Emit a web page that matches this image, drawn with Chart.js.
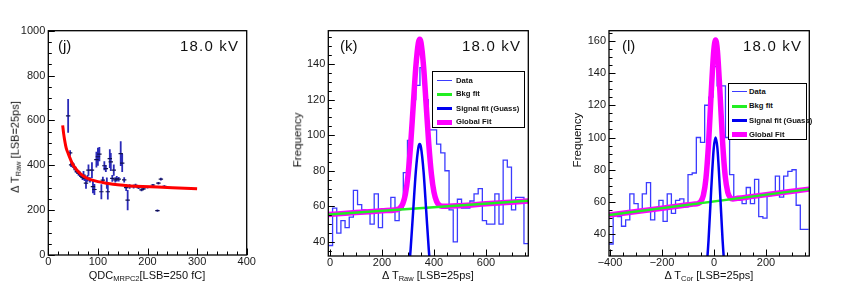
<!DOCTYPE html>
<html><head><meta charset="utf-8">
<script src="https://cdn.jsdelivr.net/npm/chart.js@4.4.1/dist/chart.umd.min.js"></script>
<style>
html,body{margin:0;padding:0;background:#fff;}
body{width:845px;height:289px;overflow:hidden;position:relative;font-family:"Liberation Sans",Arial,Helvetica,sans-serif;color:#111;}
canvas{position:absolute;top:0;}
.t{position:absolute;white-space:nowrap;line-height:1;}
.big{font-size:15px;}
.sp{letter-spacing:1.2px;}
.ax{font-size:11px;}
.fq{font-size:11.6px;}
.ax sub{font-size:7.5px;vertical-align:-2px;}
.rot{transform:translate(-50%,-50%) rotate(-90deg);}
.ctr{transform:translate(-50%,-50%);}
.leg{position:absolute;background:#fff;border:1.3px solid #000;box-sizing:border-box;}
.leg .ln{position:absolute;}
.leg .tx{position:absolute;font-size:7.7px;font-weight:bold;white-space:nowrap;line-height:1;transform:translateY(-50%);color:#111;}
</style></head><body>
<canvas id="cj" width="280" height="289" style="left:0px"></canvas>
<canvas id="ck" width="280" height="289" style="left:280px"></canvas>
<canvas id="cl" width="285" height="289" style="left:560px"></canvas>

<div class="t big" style="left:58px;top:37.5px">(j)</div>
<div class="t big sp" style="left:180px;top:37.5px">18.0 kV</div>
<div class="t big" style="left:340px;top:37.5px">(k)</div>
<div class="t big sp" style="left:462px;top:37.5px">18.0 kV</div>
<div class="t big" style="left:622px;top:37.5px">(l)</div>
<div class="t big sp" style="left:743px;top:37.5px">18.0 kV</div>

<div class="t ax rot" style="left:16px;top:147px">&Delta; T<sub>Raw</sub> [LSB=25ps]</div>
<div class="t ax ctr" style="left:147px;top:276px">QDC<sub>MRPC2</sub>[LSB=250 fC]</div>
<div class="t ax fq rot" style="left:297px;top:140px">Frequency</div>
<div class="t ax ctr" style="left:428px;top:276px">&Delta; T<sub>Raw</sub> [LSB=25ps]</div>
<div class="t ax fq rot" style="left:577px;top:140px">Frequency</div>
<div class="t ax ctr" style="left:709px;top:276px">&Delta; T<sub>Cor</sub> [LSB=25ps]</div>

<div class="leg" style="left:432px;top:71px;width:93px;height:57px">
  <div class="ln" style="left:4px;width:15px;top:8px;height:1.2px;background:#3b3bff"></div><div class="tx" style="left:23px;top:8.5px">Data</div>
  <div class="ln" style="left:4px;width:15px;top:21px;height:2.5px;background:#22ee22"></div><div class="tx" style="left:23px;top:22px">Bkg fit</div>
  <div class="ln" style="left:4px;width:15px;top:35px;height:2.5px;background:#0000f0"></div><div class="tx" style="left:23px;top:36.5px">Signal fit (Guass)</div>
  <div class="ln" style="left:4px;width:15px;top:47.5px;height:5px;background:#ff00ff"></div><div class="tx" style="left:23px;top:50px">Global Fit</div>
</div>
<div class="leg" style="left:728px;top:83px;width:79px;height:57px">
  <div class="ln" style="left:3px;width:15px;top:7px;height:1.2px;background:#3b3bff"></div><div class="tx" style="left:20px;top:7.5px">Data</div>
  <div class="ln" style="left:3px;width:15px;top:21px;height:2.5px;background:#22ee22"></div><div class="tx" style="left:20px;top:22px">Bkg fit</div>
  <div class="ln" style="left:3px;width:15px;top:35px;height:2.5px;background:#0000f0"></div><div class="tx" style="left:20px;top:36.5px">Signal fit (Guass)</div>
  <div class="ln" style="left:3px;width:15px;top:48px;height:5px;background:#ff00ff"></div><div class="tx" style="left:20px;top:50.5px">Global Fit</div>
</div>

<script>
// ---------- Panel (j): time-walk scatter ----------
const qdcMRPC2 = [40,44,46,49,52,55,58,61,64,67,69,71,73,76,79,81,84,88,90,93,97,100,103,107,110,113,116,118,120,124,126,129,132,135,138,142,146,149,153,157,160,164,172,176,182,188,192,200,211,220,222,227,234];
const dtRaw    = [620,455,402,405,392,380,372,365,360,352,346,356,342,320,342,378,335,378,305,292,425,438,450,282,334,398,385,320,282,430,415,342,378,335,340,338,452,410,335,300,245,305,305,310,300,290,295,302,312,198,320,338,306];
const dtRawErr = [75,12,10,10,10,12,10,12,12,10,12,18,12,25,15,25,12,35,30,25,35,40,32,33,15,20,15,25,35,42,40,15,25,12,12,10,55,40,12,15,45,10,8,8,6,6,5,5,5,5,6,6,5];
const fitQdc = [29,31,33.5,36,40,45,50,57,64,72,84,100,118,140,165,190,220,250,300];
const fitDt  = [578,540,505,478,453,425,401,380,364,350,337,327,320,313,308,305,303,300,295];
const ticksJx = [0,100,200,300,400];
const ticksJy = [0,200,400,600,800,1000];

// ---------- Panel (k): raw time difference histogram ----------
const histKLow = -6, histKBin = 16;
const countsK = [38,59,45,52,48,54,69,61,58,57,50,67,48,58,58,65,52,59,79,97,120,128,138,120,103,103,95,90,80,58,40,64,59,59,63,67,70,52,50,50,67,50,86,82,58,65,65,39];
const bkgKx = [-6,762], bkgKy = [55.4,63.1];
const globalKx = [-6,100,200,250,260,270,280,290,300,310,320,330,340,345,350,360,370,380,390,400,410,420,430,500,600,762];
const globalKy = [55.4,56.5,57.5,58.0,58.3,59.2,61.5,66.8,77.3,94.3,116.3,138.1,151.9,153.9,152.1,138.5,116.8,95.0,78.2,67.9,62.8,60.7,60.0,60.4,61.4,63.0];
const signalKx = [290,300,310,320,330,340,345,350,360,370,380,390,400];
const signalKy = [8.4,18.8,35.7,57.6,79.4,93.1,95,93.1,79.4,57.6,35.7,18.8,8.4];
const ticksKx = [0,200,400,600];
const ticksKy = [40,60,80,100,120,140];

// ---------- Panel (l): corrected time difference histogram ----------
const histLLow = -404, histLBin = 16;
const countsL = [34,52,51,45,49,65,59,54,65,72,49,56,61,48,65,53,61,62,57,77,78,100,97,120,125,144,132,132,100,77,61,61,59,69,59,74,51,50,64,65,76,63,76,79,80,58,43,43];
const bkgLx = [-404,366], bkgLy = [52.0,68.0];
const globalLx = [-404,-200,-100,-80,-61,-51,-41,-31,-21,-11,-1,6,13,23,33,43,53,63,73,90,150,366];
const globalLy = [52.0,56.2,58.3,58.7,59.1,60.3,64.1,74.6,96.2,127.0,153.6,160.5,153.9,127.7,97.3,76.1,66.0,62.6,61.9,62.3,63.5,68.0];
const signalLx = [-51,-41,-31,-21,-11,-1,6,13,23,33,43,53,63];
const signalLy = [1.1,4.7,15,36.4,67,93.4,100,93.4,67,36.4,15,4.7,1.1];
const ticksLx = [-400,-200,0,200];
const ticksLy = [40,60,80,100,120,140,160];

// ---------- helpers ----------
const pts = (xs, ys) => xs.map((x, i) => ({x, y: ys[i]}));
const histPts = (low, w, counts) => {
  const p = counts.map((c, i) => ({x: low + i * w, y: c}));
  p.push({x: low + counts.length * w, y: counts[counts.length - 1]});
  return p;
};
const errPts = (xs, ys, es) => xs.flatMap((x, i) => [{x, y: ys[i] - es[i]}, {x, y: ys[i] + es[i]}, {x, y: null}]);

const frameTicks = {
  id: 'frameTicks',
  afterDatasetsDraw(chart, args, o) {
    const {ctx, chartArea: a, scales: {x, y}} = chart;
    ctx.save();
    ctx.strokeStyle = '#000';
    ctx.lineWidth = 1;
    ctx.beginPath();
    const eps = 1e-6;
    for (let v = Math.ceil(x.min / o.minX) * o.minX; v <= x.max + eps; v += o.minX) {
      const px = Math.round(x.getPixelForValue(v)) + 0.5;
      const major = Math.abs(v / o.majX - Math.round(v / o.majX)) < eps;
      ctx.moveTo(px, a.bottom); ctx.lineTo(px, a.bottom - (major ? 6.5 : 3.5));
    }
    for (let v = Math.ceil(y.min / o.minY) * o.minY; v <= y.max + eps; v += o.minY) {
      const py = Math.round(y.getPixelForValue(v)) + 0.5;
      const major = Math.abs(v / o.majY - Math.round(v / o.majY)) < eps;
      ctx.moveTo(a.left, py); ctx.lineTo(a.left + (major ? 6.5 : 3.5), py);
    }
    ctx.stroke();
    ctx.lineWidth = 1.3;
    ctx.strokeRect(a.left, a.top, a.right - a.left, a.bottom - a.top);
    ctx.restore();
  }
};

const tickFont = {family: '"Liberation Sans", Arial, sans-serif', size: 11};
const fmt = v => String(v).replace('-', '\u2212');
function axes(xmin, xmax, ymin, ymax, xt, yt, yW, xH) {
  return {
    x: {type: 'linear', min: xmin, max: xmax,
        afterBuildTicks: s => { s.ticks = xt.map(v => ({value: v})); },
        afterFit: s => { s.height = xH; },
        grid: {display: false, drawTicks: false}, border: {display: false},
        ticks: {font: tickFont, color: '#1a1a1a', padding: 0, maxRotation: 0, autoSkip: false, callback: fmt}},
    y: {type: 'linear', min: ymin, max: ymax,
        afterBuildTicks: s => { s.ticks = yt.map(v => ({value: v})); },
        afterFit: s => { s.width = yW; },
        grid: {display: false, drawTicks: false}, border: {display: false},
        ticks: {font: tickFont, color: '#1a1a1a', padding: 3, autoSkip: false, callback: fmt}}
  };
}
function baseOpts(pad, sc, ft) {
  return {responsive: false, animation: false, events: [],
    layout: {padding: pad},
    plugins: {legend: {display: false}, tooltip: {enabled: false}, frameTicks: ft},
    scales: sc};
}
const line = (data, color, w, order, extra) => Object.assign({data, showLine: true, borderColor: color, backgroundColor: color, borderWidth: w, pointRadius: 0, order, clip: 0, capBezierPoints: false}, extra || {});

// (j)
new Chart(document.getElementById('cj'), {
  type: 'scatter',
  data: {datasets: [
    line(errPts(qdcMRPC2, dtRaw, dtRawErr), '#2a2ab8', 1.8, 3, {spanGaps: false}),
    {data: pts(qdcMRPC2, dtRaw), pointStyle: 'line', pointRadius: 2.2, borderColor: '#101050', borderWidth: 1.2, order: 2, clip: 0},
    line(pts(fitQdc, fitDt), '#ff0000', 3, 1, {cubicInterpolationMode: 'monotone'})
  ]},
  options: baseOpts({left: 0, right: 33.3, top: 30.7, bottom: 0},
    axes(0, 400, 0, 1000, ticksJx, ticksJy, 48.3, 34),
    {majX: 100, minX: 20, majY: 200, minY: 50}),
  plugins: [frameTicks]
});

// (k)
new Chart(document.getElementById('ck'), {
  type: 'scatter',
  data: {datasets: [
    line(histPts(histKLow, histKBin, countsK), '#3b3bff', 1.3, 4, {stepped: true}),
    line(pts(globalKx, globalKy), '#ff00ff', 5.5, 3, {cubicInterpolationMode: 'monotone'}),
    line(pts(bkgKx, bkgKy), '#22ee22', 2.5, 2),
    line(pts(signalKx, signalKy), '#0000f0', 2.5, 1, {cubicInterpolationMode: 'monotone'})
  ]},
  options: baseOpts({left: 0, right: 31.7, top: 30.7, bottom: 0},
    axes(-6.5, 762.7, 32.1, 158.7, ticksKx, ticksKy, 48.3, 33),
    {majX: 200, minX: 50, majY: 20, minY: 5}),
  plugins: [frameTicks]
});

// (l)
new Chart(document.getElementById('cl'), {
  type: 'scatter',
  data: {datasets: [
    line(histPts(histLLow, histLBin, countsL), '#3b3bff', 1.3, 4, {stepped: true}),
    line(pts(globalLx, globalLy), '#ff00ff', 5.5, 3, {cubicInterpolationMode: 'monotone'}),
    line(pts(bkgLx, bkgLy), '#22ee22', 2.5, 2),
    line(pts(signalLx, signalLy), '#0000f0', 2.5, 1, {cubicInterpolationMode: 'monotone'})
  ]},
  options: baseOpts({left: 0, right: 35.7, top: 30.7, bottom: 0},
    axes(-404, 366.6, 26.55, 166.2, ticksLx, ticksLy, 49, 33),
    {majX: 200, minX: 50, majY: 20, minY: 5}),
  plugins: [frameTicks]
});
</script>
</body></html>
